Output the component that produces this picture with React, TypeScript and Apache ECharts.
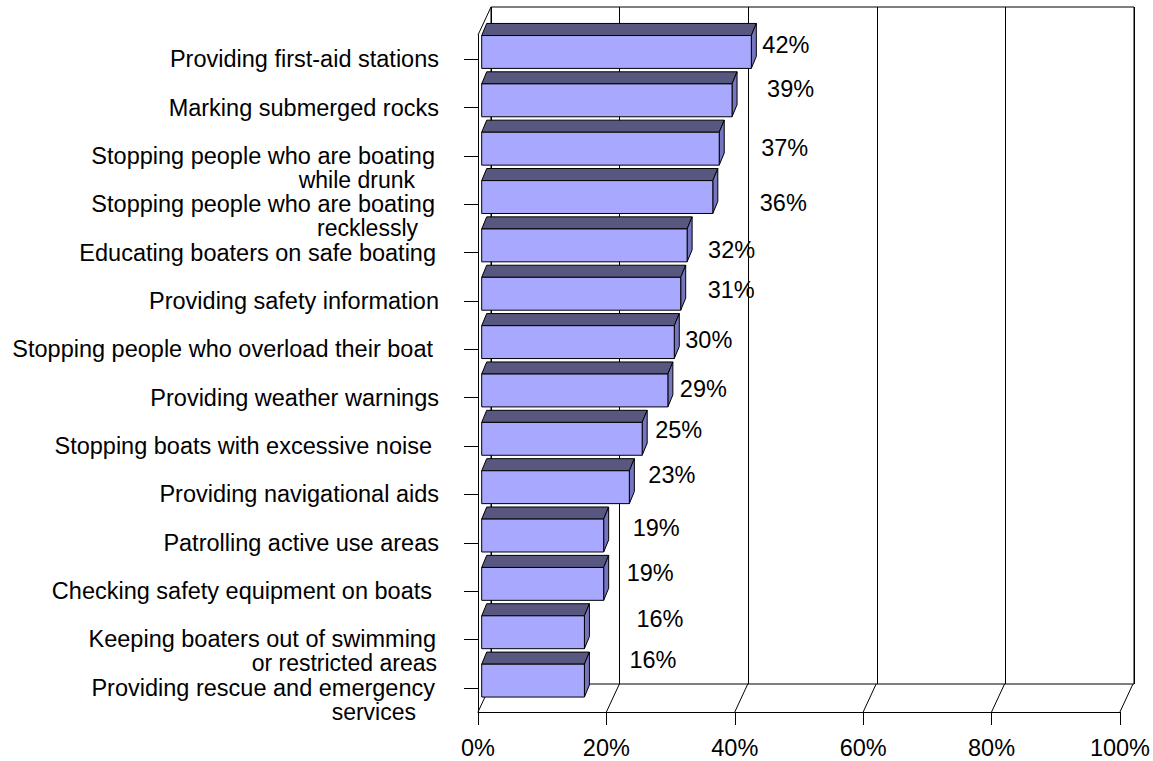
import React, { useEffect, useRef } from "react";
import * as echarts from "echarts";

// ---- data ----
const categories: string[] = [
  "Providing first-aid stations",
  "Marking submerged rocks",
  "Stopping people who are boating\nwhile drunk",
  "Stopping people who are boating\nrecklessly",
  "Educating boaters on safe boating",
  "Providing safety information",
  "Stopping people who overload their boat",
  "Providing weather warnings",
  "Stopping boats with excessive noise",
  "Providing navigational aids",
  "Patrolling active use areas",
  "Checking safety equipment on boats",
  "Keeping boaters out of swimming\nor restricted areas",
  "Providing rescue and emergency\nservices",
];
const values: number[] = [42, 39, 37, 36, 32, 31, 30, 29, 25, 23, 19, 19, 16, 16];
const xTicks: number[] = [0, 20, 40, 60, 80, 100];

// ---- style / layout (not data) ----
const FONT = '"Liberation Sans", Arial, sans-serif';
const FS = 23.5;
const FS2 = 23;
const LINE_H = 24;
const LABEL_MARGIN = 39;
const DEPTH_X = 13;
const DEPTH_Y = 28;
// right padding per label line (px), emulating trailing spaces
const linePads: number[][] = [
  [0], [0], [4, 24], [4, 21], [3], [0], [6], [0], [7], [0], [0], [7], [3, 2], [4, 23],
];
// label nudges relative to bar end / band centre
const labelNudges: number[][] = [
  [11, -14], [35, -19], [42, -8], [47, -1], [21, -3], [27, -11], [11, -9],
  [12, -9], [13, -16], [19, -19], [29, -15], [23, -18], [52, -20], [45, -28],
];
const FRONT = "#A8A8FF";
const TOP = "#57577F";
const SIDE = "#7676C0";

export default function App() {
  const ref = useRef<HTMLDivElement>(null);
  useEffect(() => {
    if (!ref.current) return;
    const chart = echarts.init(ref.current, undefined, { renderer: "svg" });
    const option: any = {
      animation: false,
      backgroundColor: "#ffffff",
      grid: [
        { left: 478, top: 35, width: 643, height: 677, show: false },
        {
          left: 478 + DEPTH_X,
          top: 35 - DEPTH_Y,
          width: 643,
          height: 677,
          show: true,
          borderColor: "#000",
          borderWidth: 1,
          backgroundColor: "transparent",
        },
      ],
      xAxis: [
        {
          gridIndex: 0,
          type: "value",
          min: 0,
          max: 100,
          interval: 20,
          axisLine: { show: true, lineStyle: { color: "#000", width: 1 } },
          axisTick: { show: true, length: 13, lineStyle: { color: "#000", width: 1 } },
          axisLabel: {
            formatter: "{value}%",
            fontSize: FS,
            fontFamily: FONT,
            color: "#000",
            margin: 24,
          },
          splitLine: { show: false },
        },
        {
          gridIndex: 1,
          type: "value",
          min: 0,
          max: 100,
          interval: 20,
          axisLine: { show: false },
          axisTick: { show: false },
          axisLabel: { show: false },
          splitLine: { show: true, lineStyle: { color: "#000", width: 1 } },
        },
      ],
      yAxis: [
        {
          gridIndex: 0,
          type: "category",
          data: categories,
          inverse: true,
          axisLine: { show: true, lineStyle: { color: "#000", width: 1 } },
          axisTick: {
            show: true,
            alignWithLabel: true,
            interval: 0,
            length: 14,
            lineStyle: { color: "#000", width: 1 },
          },
          axisLabel: { show: false },
          splitLine: { show: false },
        },
        {
          gridIndex: 1,
          type: "category",
          data: categories,
          inverse: true,
          show: false,
        },
      ],
      series: [
        {
          type: "custom",
          name: "walls",
          xAxisIndex: 0,
          yAxisIndex: 0,
          clip: false,
          z: 1,
          silent: true,
          encode: { x: 0, y: 1 },
          data: xTicks.map((v) => [v, 0]),
          renderItem: (params: any, api: any) => {
            const cs = params.coordSys;
            const p = api.coord([api.value(0), 0]);
            const yb = cs.y + cs.height;
            const children: any[] = [
              {
                type: "line",
                shape: { x1: p[0], y1: yb, x2: p[0] + DEPTH_X, y2: yb - DEPTH_Y },
                style: { stroke: "#000", lineWidth: 1 },
              },
            ];
            if (params.dataIndex === 0) {
              children.push({
                type: "line",
                shape: { x1: cs.x, y1: cs.y, x2: cs.x + DEPTH_X, y2: cs.y - DEPTH_Y },
                style: { stroke: "#000", lineWidth: 1 },
              });
            }
            return { type: "group", children };
          },
        },
        {
          type: "custom",
          name: "categoryLabels",
          xAxisIndex: 0,
          yAxisIndex: 0,
          clip: false,
          z: 2,
          silent: true,
          encode: { x: 0, y: 1 },
          data: categories.map((_, i) => [0, i]),
          renderItem: (params: any, api: any) => {
            const cs = params.coordSys;
            const i = params.dataIndex;
            const p = api.coord([0, i]);
            const lines = categories[i].split("\n");
            const pads = linePads[i] || [0];
            return {
              type: "group",
              children: lines.map((l, j) => ({
                type: "text",
                x: cs.x - LABEL_MARGIN - (pads[j] ?? 0),
                y: p[1] + j * LINE_H,
                style: {
                  text: l,
                  fontSize: j === 0 ? FS : FS2,
                  fontFamily: FONT,
                  fill: "#000",
                  align: "right",
                  verticalAlign: "middle",
                },
              })),
            };
          },
        },
        {
          type: "custom",
          name: "bars",
          xAxisIndex: 0,
          yAxisIndex: 0,
          clip: false,
          z: 3,
          encode: { x: 0, y: 1 },
          data: values.map((v, i) => [v, i]),
          renderItem: (params: any, api: any) => {
            const i = params.dataIndex;
            const v = api.value(0);
            const p0 = api.coord([0, i]);
            const p1 = api.coord([v, i]);
            const band = api.size([0, 1])[1];
            const offX = 3.7;
            const h = band * 0.68;
            const cy = p0[1] - band * 0.149;
            const x0 = p0[0] + offX;
            const x1 = p1[0] + offX;
            const yT = cy - h / 2;
            const yB = yT + h;
            const dx = 5;
            const dy = -band * 0.25;
            const stroke = { stroke: "#000", lineWidth: 1 };
            const nud = labelNudges[i] || [12, -10];
            return {
              type: "group",
              children: [
                {
                  type: "polygon",
                  shape: {
                    points: [
                      [x0, yT],
                      [x1, yT],
                      [x1 + dx, yT + dy],
                      [x0 + dx, yT + dy],
                    ],
                  },
                  style: { fill: TOP, ...stroke },
                },
                {
                  type: "polygon",
                  shape: {
                    points: [
                      [x1, yT],
                      [x1 + dx, yT + dy],
                      [x1 + dx, yB + dy],
                      [x1, yB],
                    ],
                  },
                  style: { fill: SIDE, ...stroke },
                },
                {
                  type: "rect",
                  shape: { x: x0, y: yT, width: x1 - x0, height: h },
                  style: { fill: FRONT, ...stroke },
                },
                {
                  type: "text",
                  x: x1 + nud[0],
                  y: p0[1] + nud[1],
                  style: {
                    text: v + "%",
                    fontSize: FS,
                    fontFamily: FONT,
                    fill: "#000",
                    align: "left",
                    verticalAlign: "middle",
                  },
                },
              ],
            };
          },
        },
      ],
    };
    chart.setOption(option);
    return () => chart.dispose();
  }, []);
  return (
    <div
      ref={ref}
      style={{ position: "absolute", left: 0, top: 0, width: 1153, height: 761 }}
    />
  );
}
